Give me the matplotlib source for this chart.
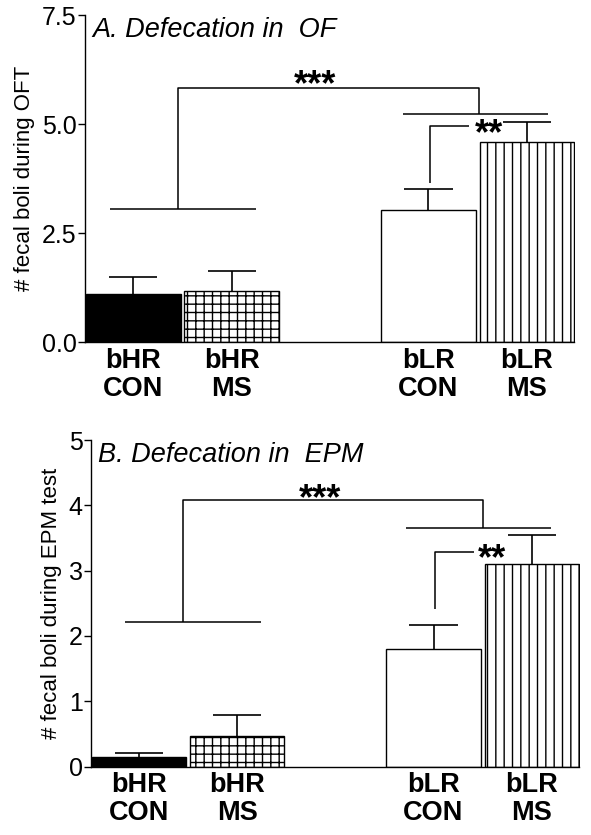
"""
Defecation in open field (OF) and elevated plus maze (EPM), bHR vs bLR rats.
"""

import matplotlib
matplotlib.use("Agg")
import matplotlib.pyplot as plt

plt.rcParams["font.family"] = ["Liberation Sans", "DejaVu Sans"]
plt.rcParams["hatch.linewidth"] = 1.0

groups = ["bHR\nCON", "bHR\nMS", "bLR\nCON", "bLR\nMS"]
positions = [0, 1, 3, 4]
fills = ["black", "white", "white", "white"]
hatches = [None, "++", None, "||"]

# panel A: open field
of_mean = [1.10, 1.17, 3.03, 4.59]
of_sem = [0.40, 0.46, 0.48, 0.46]

# panel B: elevated plus maze
epm_mean = [0.14, 0.46, 1.80, 3.10]
epm_sem = [0.07, 0.33, 0.36, 0.44]

# significance brackets (data coords): list of (xs, ys)
of_brackets = [
    ([-0.24, 1.25], [3.06, 3.06]),
    ([0.45, 0.45, 3.51, 3.51], [3.06, 5.83, 5.83, 5.23]),
    ([2.74, 4.22], [5.23, 5.23]),
    ([3.02, 3.02, 3.41], [3.65, 4.95, 4.95]),
]
of_stars = [("***", 1.85, 5.66), ("**", 3.62, 4.55)]

epm_brackets = [
    ([-0.14, 1.24], [2.22, 2.22]),
    ([0.45, 0.45, 3.50, 3.50], [2.22, 4.08, 4.08, 3.66]),
    ([2.72, 4.20], [3.66, 3.66]),
    ([3.02, 3.02, 3.41], [2.42, 3.29, 3.29]),
]
epm_stars = [("***", 1.84, 3.94), ("**", 3.60, 3.02)]

CAP = 0.245  # half width of error caps, in bar units


def draw_panel(ax, means, sems, brackets, stars, title, ylabel, yticks, ticklabels):
    ax.bar(positions, means, width=0.96, color=fills, edgecolor="black",
           linewidth=1.0, hatch=hatches, zorder=2)
    # upper error bars only
    tops = [m + s for m, s in zip(means, sems)]
    ax.vlines(positions, means, tops, color="black", linewidth=1.2, zorder=1)
    ax.hlines(tops, [p - CAP for p in positions], [p + CAP for p in positions],
              color="black", linewidth=1.2, zorder=1)

    for xs, ys in brackets:
        ax.plot(xs, ys, color="black", linewidth=1.1, solid_capstyle="butt")
    for s, x, y in stars:
        ax.text(x, y, s, ha="center", va="baseline", fontsize=26, fontweight="bold")

    ax.text(0.015, 0.995, title, transform=ax.transAxes, ha="left", va="top",
            fontsize=19.5, style="italic")

    ax.set_xlim(-0.49, 4.49)
    ax.set_ylim(0, yticks[-1])
    ax.set_yticks(yticks)
    ax.set_yticklabels(ticklabels, fontsize=18)
    ax.set_xticks(positions)
    ax.set_xticklabels(groups, fontsize=19.5, fontweight="bold", linespacing=1.08)
    ax.tick_params(axis="x", length=0, pad=4)
    ax.tick_params(axis="y", length=5, width=1.0, direction="out", pad=1)
    ax.set_ylabel(ylabel, fontsize=16, labelpad=5)

    ax.spines["top"].set_visible(False)
    ax.spines["right"].set_visible(False)
    ax.spines["left"].set_linewidth(1.0)
    ax.spines["bottom"].set_linewidth(1.0)
    ax.spines["bottom"].set_bounds(-0.49, 4.48)


fig = plt.figure(figsize=(5.91, 8.35), dpi=100)
ax1 = fig.add_axes([0.144, 0.590, 0.829, 0.392])
ax2 = fig.add_axes([0.154, 0.082, 0.827, 0.391])

draw_panel(ax1, of_mean, of_sem, of_brackets, of_stars,
           "A. Defecation in  OF", "# fecal boli during OFT",
           [0, 2.5, 5.0, 7.5], ["0.0", "2.5", "5.0", "7.5"])
draw_panel(ax2, epm_mean, epm_sem, epm_brackets, epm_stars,
           "B. Defecation in  EPM", "# fecal boli during EPM test",
           [0, 1, 2, 3, 4, 5], ["0", "1", "2", "3", "4", "5"])

fig.savefig("out.png", dpi=100)
